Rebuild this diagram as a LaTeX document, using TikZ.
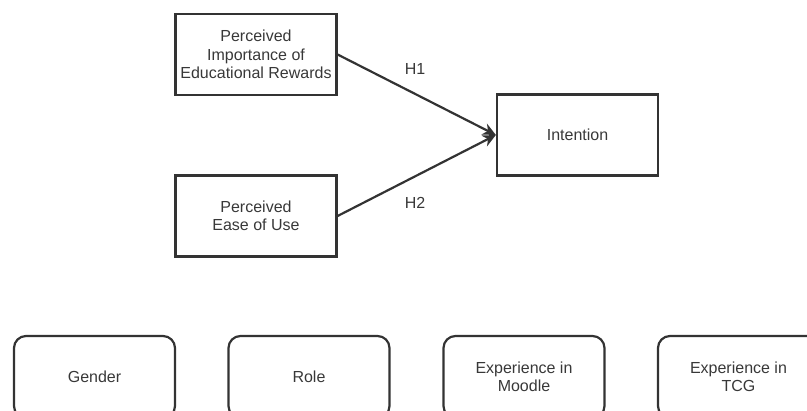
\documentclass[tikz,border=0pt]{standalone}
\usepackage{fontspec}
\setmainfont{Liberation Sans}
\usetikzlibrary{arrows.meta}
\definecolor{linec}{HTML}{333333}
\definecolor{textc}{HTML}{383838}
\tikzset{
  sqbox/.style={draw=linec, line width=2.2pt, minimum width=161pt, minimum height=81pt, inner sep=0pt, align=center, text=textc, font=\fontsize{16}{18.5}\selectfont},
  rbox/.style={sqbox, rounded corners=12pt, minimum height=82pt},
  conn/.style={draw=linec, line width=2.2pt, -{Stealth[length=13pt,width=12pt]}},
  lab/.style={text=textc, font=\fontsize{16}{18.5}\selectfont}
}
\begin{document}
\begin{tikzpicture}[x=1pt,y=-1pt]
\useasboundingbox (0,0) rectangle (807,411);
\node[sqbox] (pier) at (256,54.5) {Perceived\\Importance of\\Educational Rewards};
\node[sqbox] (peou) at (256,216) {Perceived\\Ease of Use};
\node[sqbox] (int) at (577.5,135) {Intention};
\draw[conn] (pier.east) -- (int.west);
\draw[conn] (peou.east) -- (int.west);
\node[lab] (h1) at (415,69) {H1};
\node[lab] (h2) at (415,203) {H2};
\node[rbox] (gen) at (94.5,377) {Gender};
\node[rbox] (role) at (309,377) {Role};
\node[rbox] (moo) at (524,377) {Experience in\\Moodle};
\node[rbox] (tcg) at (738.5,377) {Experience in\\TCG};
\end{tikzpicture}
\end{document}
